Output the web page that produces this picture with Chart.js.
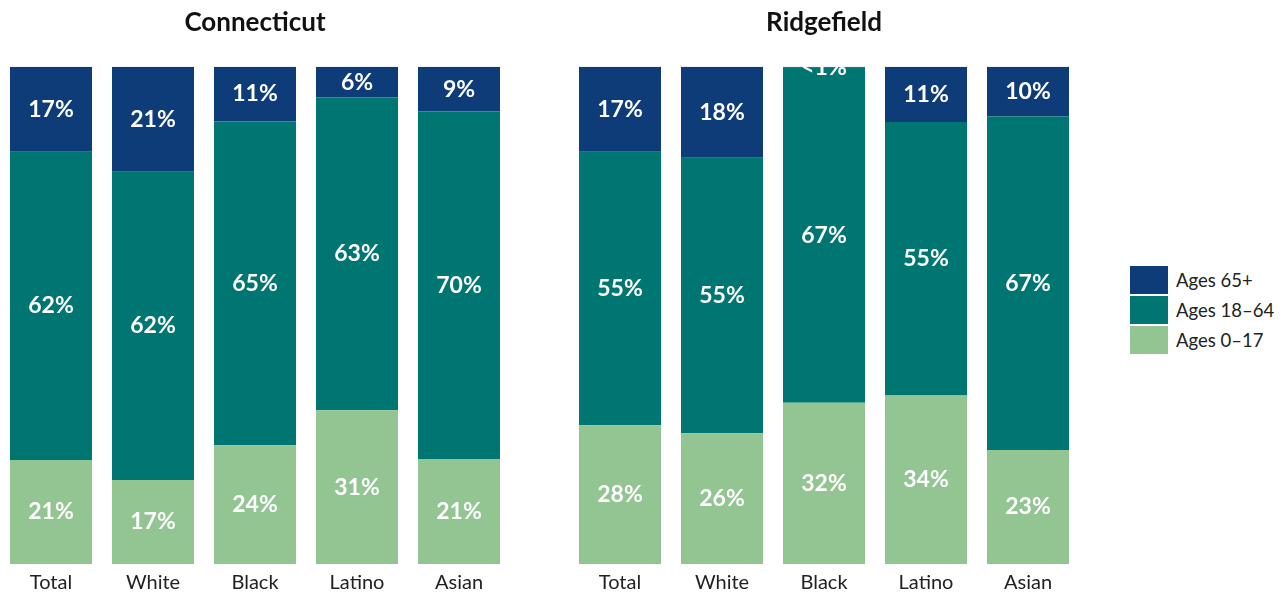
<!DOCTYPE html>
<html lang="en">
<head>
<meta charset="UTF-8">
<title>Population by age group and race</title>
<script src="https://cdn.jsdelivr.net/npm/chart.js"></script>
<style>
  body { margin: 0; background: #fff; font-family: Lato, "Noto Sans", sans-serif; overflow: hidden; }
  canvas { position: absolute; top: 0; }
  #legend { position: absolute; left: 1130px; top: 265px; }
  .item { display: flex; align-items: center; height: 30px; font-size: 18.5px; color: #222; }
  .box { width: 38px; height: 28px; margin-right: 8px; }
</style>
</head>
<body>
<canvas id="ct" width="510" height="595" style="left:0"></canvas>
<canvas id="rf" width="510" height="595" style="left:569px"></canvas>
<div id="legend"></div>
<script>
// categories shared by both panels
const categories = ['Total', 'White', 'Black', 'Latino', 'Asian'];
const seriesNames = ['Ages 0\u201317', 'Ages 18\u201364', 'Ages 65+'];
const seriesColors = ['#92c592', '#007672', '#0e3c78'];

// Connecticut (percent of population)
const ctAges0to17 = [20.9, 16.9, 23.9, 30.9, 21.1];
const ctAges18to64 = [62.0, 62.0, 65.1, 62.9, 69.9];
const ctAges65plus = [17.1, 21.1, 11.0, 6.2, 9.0];

// Ridgefield (percent of population)
const rfAges0to17 = [27.9, 26.3, 32.4, 33.9, 22.9];
const rfAges18to64 = [55.0, 55.4, 67.4, 55.0, 67.1];
const rfAges65plus = [17.1, 18.3, 0.2, 11.1, 10.0];

const FONT = 'Lato, "Noto Sans", sans-serif';

// white percent labels in the middle of each segment
const segmentLabels = {
  id: 'segmentLabels',
  afterDatasetsDraw(chart) {
    const c = chart.ctx;
    c.save();
    c.fillStyle = '#fff';
    c.font = 'bold 23px ' + FONT;
    c.textAlign = 'center';
    c.textBaseline = 'middle';
    chart.data.datasets.forEach((ds, i) => {
      chart.getDatasetMeta(i).data.forEach((bar, j) => {
        const v = ds.data[j];
        const txt = v < 1 ? '<1%' : Math.round(v) + '%';
        c.fillText(txt, bar.x, (bar.y + bar.base) / 2);
      });
    });
    c.restore();
  }
};

function makeChart(id, title, s0, s1, s2) {
  const values = [s0, s1, s2];
  new Chart(document.getElementById(id), {
    type: 'bar',
    data: {
      labels: categories,
      datasets: values.map((d, i) => ({
        label: seriesNames[i],
        data: d,
        backgroundColor: seriesColors[i],
        borderWidth: 0,
        barPercentage: 0.804,
        categoryPercentage: 1
      }))
    },
    options: {
      responsive: false,
      animation: false,
      layout: { padding: { top: 0, left: 0, right: 0, bottom: -7 } },
      plugins: {
        legend: { display: false },
        tooltip: { enabled: false },
        title: {
          display: true,
          text: title,
          color: '#111',
          font: { family: FONT, size: 26, weight: 'bold' },
          padding: { top: 7, bottom: 28.5 }
        }
      },
      scales: {
        x: {
          stacked: true,
          grid: { display: false, drawTicks: false },
          border: { display: false },
          ticks: { color: '#222', font: { family: FONT, size: 20 }, padding: 7 }
        },
        y: { stacked: true, min: 0, max: 100, display: false }
      }
    },
    plugins: [segmentLabels]
  });
}

makeChart('ct', 'Connecticut', ctAges0to17, ctAges18to64, ctAges65plus);
makeChart('rf', 'Ridgefield', rfAges0to17, rfAges18to64, rfAges65plus);

// legend, top item = Ages 65+
const legend = document.getElementById('legend');
for (let i = seriesNames.length - 1; i >= 0; i--) {
  const row = document.createElement('div');
  row.className = 'item';
  row.innerHTML = '<div class="box" style="background:' + seriesColors[i] + '"></div>' + seriesNames[i];
  legend.appendChild(row);
}
</script>
</body>
</html>
